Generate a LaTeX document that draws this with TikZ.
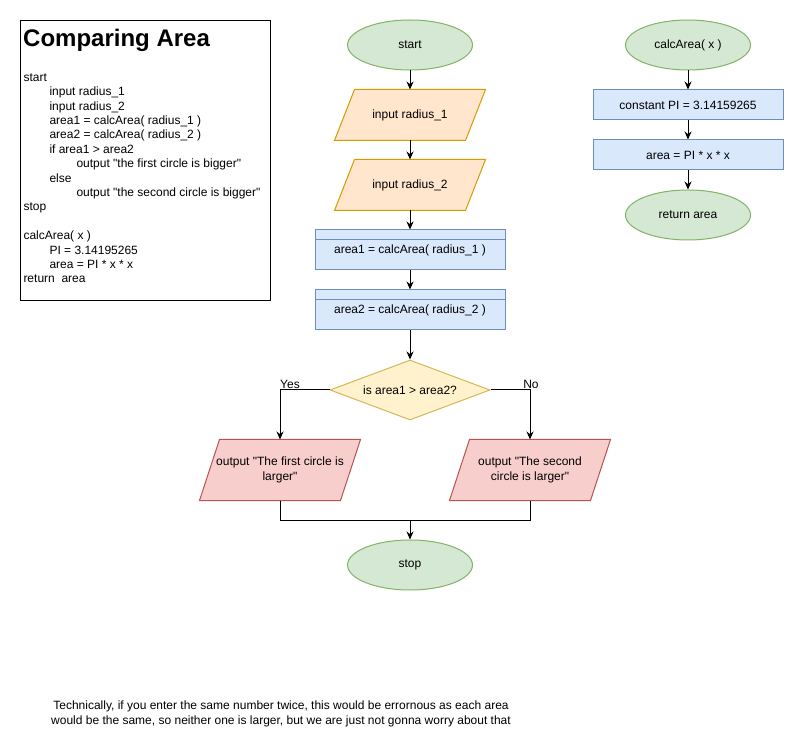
\documentclass[tikz,border=0pt]{standalone}
\usepackage{fontspec}
\setmainfont{Liberation Sans}[Ligatures=TeXOff]
\usetikzlibrary{shapes.geometric,arrows.meta}
\definecolor{gfill}{HTML}{D5E8D4}\definecolor{gline}{HTML}{82B366}
\definecolor{ofill}{HTML}{FFE6CC}\definecolor{oline}{HTML}{D79B00}
\definecolor{bfill}{HTML}{DAE8FC}\definecolor{bline}{HTML}{6C8EBF}
\definecolor{yfill}{HTML}{FFF2CC}\definecolor{yline}{HTML}{D6B656}
\definecolor{rfill}{HTML}{F8CECC}\definecolor{rline}{HTML}{B85450}
\pgfdeclarelayer{bg}\pgfsetlayers{bg,main}
\newcommand{\parashape}[3]{\begin{pgfonlayer}{bg}\draw[line width=1pt,fill=#2,draw=#3] ([xshift=10pt]#1.north west) -- ([xshift=10pt]#1.north east) -- ([xshift=-10pt]#1.south east) -- ([xshift=-10pt]#1.south west) -- cycle;\end{pgfonlayer}}
\tikzset{
 base/.style={font=\fontsize{12}{14.4}\selectfont, line width=1pt, inner sep=0pt, align=center},
 term/.style={base, ellipse, draw=gline, fill=gfill, minimum width=125pt, minimum height=50pt},
 proc/.style={base, rectangle, draw=bline, fill=bfill, minimum width=190pt},
 para/.style={base, rectangle, minimum height=50pt},
 dec/.style={base, diamond, draw=yline, fill=yfill, minimum width=160pt, minimum height=60pt, aspect=2.667},
 arr/.style={line width=1pt, -{Stealth[length=8pt,width=7pt]}},
 conn/.style={line width=1pt},
}
\begin{document}
\begin{tikzpicture}[x=1pt,y=-1pt]
\useasboundingbox (0,0) rectangle (804,751);
\begin{pgfonlayer}{bg}\fill[white] (0,0) rectangle (804,751);\end{pgfonlayer}

% pseudocode box
\node[draw, line width=1pt, minimum width=250pt, minimum height=280pt, anchor=north west, inner sep=0pt] (frame) at (20,20) {};
\node[font=\bfseries\fontsize{24}{28}\selectfont, anchor=base west, inner sep=0pt] (title) at (23,47) {Comparing Area};
\node[base, align=left, anchor=north west] (code) at (23,73) {start\\
\hspace*{26pt}input radius\_1\\
\hspace*{26pt}input radius\_2\\
\hspace*{26pt}area1 = calcArea( radius\_1 )\\
\hspace*{26pt}area2 = calcArea( radius\_2 )\\
\hspace*{26pt}if area1 > area2\\
\hspace*{53pt}output "the first circle is bigger"\\
\hspace*{26pt}else\\
\hspace*{53pt}output "the second circle is bigger"\\
stop\\[14.4pt]
calcArea( x )\\
\hspace*{26pt}PI = 3.14195265\\
\hspace*{26pt}area = PI * x * x\\
return\ \ area};

% main flow
\node[term] (start) at (410,45) {start};
\node[para, minimum width=130pt] (in1) at (410,115) {input radius\_1};
\parashape{in1}{ofill}{oline}
\node[para, minimum width=130pt] (in2) at (410,185) {input radius\_2};
\parashape{in2}{ofill}{oline}
\node[proc, minimum height=40pt] (a1) at (410,250) {area1 = calcArea( radius\_1 )};
\draw[bline, line width=1pt] ([yshift=-10pt]a1.north west) -- ([yshift=-10pt]a1.north east);
\node[proc, minimum height=40pt] (a2) at (410,310) {area2 = calcArea( radius\_2 )};
\draw[bline, line width=1pt] ([yshift=-10pt]a2.north west) -- ([yshift=-10pt]a2.north east);
\node[dec] (dia) at (410,390) {is area1 > area2?};
\node[para, minimum width=140pt, minimum height=60pt] (out1) at (280,470) {output "The first circle is\\larger"};
\parashape{out1}{rfill}{rline}
\node[para, minimum width=140pt, minimum height=60pt] (out2) at (530,470) {output "The second\\circle is larger"};
\parashape{out2}{rfill}{rline}
\node[term] (stop) at (410,565) {stop};
\coordinate (m) at (410,520);

\draw[arr] (start) -- (in1);
\draw[arr] (in1) -- (in2);
\draw[arr] (in2) -- (a1);
\draw[arr] (a1) -- (a2);
\draw[arr] (a2) -- (dia);
\draw[arr] (dia.west) -| (out1);
\draw[arr] (dia.east) -| (out2);
\node[base] (yes) at (290,384) {Yes};
\node[base] (no) at (531,384) {No};
\draw[conn] (out1) |- (m);
\draw[conn] (out2) |- (m);
\draw[arr] (m) -- (stop);

% function flow
\node[term] (calc) at (688,45) {calcArea( x )};
\node[proc, minimum height=30pt] (const) at (688,105) {constant PI = 3.14159265};
\node[proc, minimum height=30pt] (areab) at (688,155) {area = PI * x * x};
\node[term] (ret) at (688,215) {return area};
\draw[arr] (calc) -- (const);
\draw[arr] (const) -- (areab);
\draw[arr] (areab) -- (ret);

% note
\node[base] (note) at (281,714) {Technically, if you enter the same number twice, this would be errornous as each area\\would be the same, so neither one is larger, but we are just not gonna worry about that};
\end{tikzpicture}
\end{document}
